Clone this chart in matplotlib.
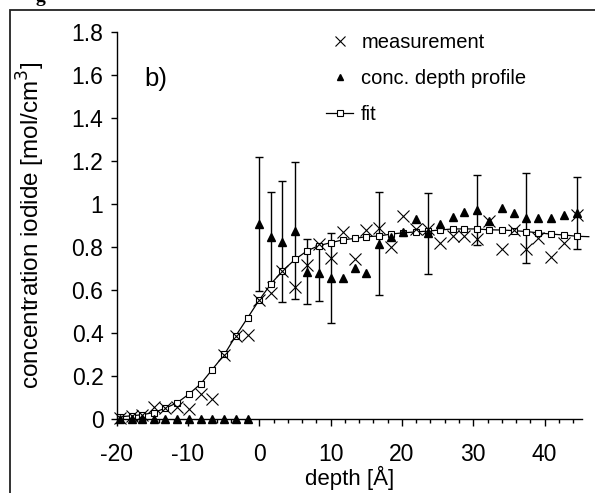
import matplotlib.pyplot as plt
from matplotlib.lines import Line2D
from matplotlib.patches import Rectangle
from matplotlib.ticker import MultipleLocator

plt.rcParams['font.family'] = ['Liberation Sans', 'DejaVu Sans']
plt.rcParams['axes.unicode_minus'] = False

# depth grid of the profile [Å]
depth = [-19.6, -17.9, -16.4, -14.8, -13.2, -11.5, -9.9, -8.2, -6.6, -4.9,
         -3.3, -1.65, 0.0, 1.6, 3.25, 5.0, 6.7, 8.3, 10.0, 11.7,
         13.4, 15.0, 16.8, 18.4, 20.2, 21.9, 23.6, 25.3, 27.1, 28.7,
         30.5, 32.2, 34.0, 35.7, 37.4, 39.1, 40.9, 42.7, 44.5]

measurement = [0.006, 0.012, 0.02, 0.057, 0.05, 0.054, 0.045, 0.114, 0.092, 0.298,
               0.386, 0.39, 0.555, 0.587, 0.687, 0.614, 0.718, 0.814, 0.75, 0.868,
               0.743, 0.879, 0.89, 0.798, 0.946, 0.884, 0.882, 0.817, 0.853, 0.851,
               0.836, 0.921, 0.793, 0.879, 0.793, 0.84, 0.752, 0.817, 0.951]

profile = [0.0, 0.0, 0.0, 0.0, 0.0, 0.0, 0.0, 0.0, 0.0, 0.0,
           0.0, 0.0, 0.907, 0.848, 0.825, 0.876, 0.685, 0.681, 0.655, 0.655,
           0.70, 0.677, 0.816, 0.845, 0.872, 0.93, 0.863, 0.906, 0.94, 0.962,
           0.972, 0.922, 0.98, 0.96, 0.935, 0.935, 0.935, 0.948, 0.957]

fit = [0.01, 0.015, 0.02, 0.03, 0.05, 0.076, 0.115, 0.164, 0.23, 0.30,
       0.387, 0.47, 0.554, 0.627, 0.689, 0.742, 0.782, 0.806, 0.82, 0.833,
       0.84, 0.848, 0.851, 0.86, 0.866, 0.87, 0.874, 0.879, 0.884, 0.884,
       0.884, 0.88, 0.879, 0.876, 0.872, 0.866, 0.86, 0.856, 0.85]

# the fit curve runs on a little past the last marker
fit_end_depth = 46.2
fit_end_value = 0.848

# error bars on some points of the depth profile
err_depth = [0.0, 1.6, 3.25, 5.0, 6.7, 8.3, 10.0, 16.8, 23.6, 30.5, 37.4, 44.5]
err_value = [0.907, 0.848, 0.825, 0.876, 0.685, 0.681, 0.655, 0.816, 0.863, 0.972, 0.935, 0.957]
err_size = [0.31, 0.21, 0.28, 0.32, 0.15, 0.13, 0.21, 0.24, 0.19, 0.163, 0.21, 0.167]


def main():
    fig = plt.figure(figsize=(5.95, 4.93), dpi=100)
    ax = fig.add_axes([0.1961, 0.1501, 0.7815, 0.785])

    # outer frame of the page, cut by the image edge
    fig.add_artist(Rectangle((10 / 595, -0.2), 1.5, 1.2 - 10 / 493, transform=fig.transFigure,
                             fill=False, edgecolor='#222222', linewidth=1.3))
    # caption above the frame, only its descender is in view
    fig.text(35 / 595, 1 - 2 / 493, "g", family='Liberation Serif', fontweight='bold',
             fontsize=14, va='baseline', ha='left')

    ax.errorbar(err_depth, err_value, yerr=err_size, fmt='none', ecolor='black',
                elinewidth=1.0, capsize=3, capthick=1.0, zorder=2)

    ax.plot(depth + [fit_end_depth], fit + [fit_end_value], color='black', linewidth=0.9,
            zorder=3, clip_on=False)
    ax.plot(depth, fit, linestyle='none', marker='s', markersize=4.2, markerfacecolor='white',
            markeredgecolor='black', markeredgewidth=0.8, zorder=4, clip_on=False)
    ax.plot(depth, profile, linestyle='none', marker='^', markersize=6, color='black',
            zorder=5, clip_on=False)
    ax.plot(depth, measurement, linestyle='none', marker='x', markersize=8, color='black',
            markeredgewidth=0.8, zorder=6, clip_on=False)

    ax.set_xlim(-20, 45.2)
    ax.set_ylim(0, 1.8)

    for side in ['top', 'right']:
        ax.spines[side].set_visible(False)
    for side in ['left', 'bottom']:
        ax.spines[side].set_linewidth(1.0)

    ax.xaxis.set_major_locator(MultipleLocator(10))
    ax.xaxis.set_minor_locator(MultipleLocator(2))
    ax.set_yticks([0, 0.2, 0.4, 0.6, 0.8, 1.0, 1.2, 1.4, 1.6, 1.8])
    ax.set_yticklabels(['0', '0.2', '0.4', '0.6', '0.8', '1', '1.2', '1.4', '1.6', '1.8'])

    ax.tick_params(axis='x', which='major', direction='out', length=5, width=1.0,
                   labelsize=16.5, pad=12.5)
    ax.tick_params(axis='x', which='minor', direction='out', length=3, width=1.0)
    ax.tick_params(axis='y', which='major', direction='out', length=4.5, width=1.0,
                   labelsize=16.5, pad=5)

    ax.set_xlabel("depth [Å]", fontsize=16, labelpad=0)
    ax.set_ylabel("concentration iodide [mol/cm$^3$]", fontsize=17.5)
    ax.yaxis.set_label_coords(-0.15, 0.5)

    ax.text(-16.1, 1.55, "b)", fontsize=18.5)

    handles = [
        Line2D([], [], linestyle='none', marker='x', markersize=7, color='black', markeredgewidth=0.8),
        Line2D([], [], linestyle='none', marker='^', markersize=5, color='black'),
        Line2D([], [], color='black', linewidth=0.9, marker='s', markersize=4,
               markerfacecolor='white', markeredgecolor='black', markeredgewidth=0.8),
    ]
    labels = ["measurement", "conc. depth profile", "fit"]
    fig.legend(handles, labels, loc='upper left', bbox_to_anchor=(326 / 595, 1 - 33 / 493),
               frameon=False, fontsize=14.5, handlelength=1.35, handletextpad=0.4,
               labelspacing=0.85, borderpad=0, borderaxespad=0)

    fig.savefig("out.png", dpi=100)
    plt.close(fig)


if __name__ == "__main__":
    main()
